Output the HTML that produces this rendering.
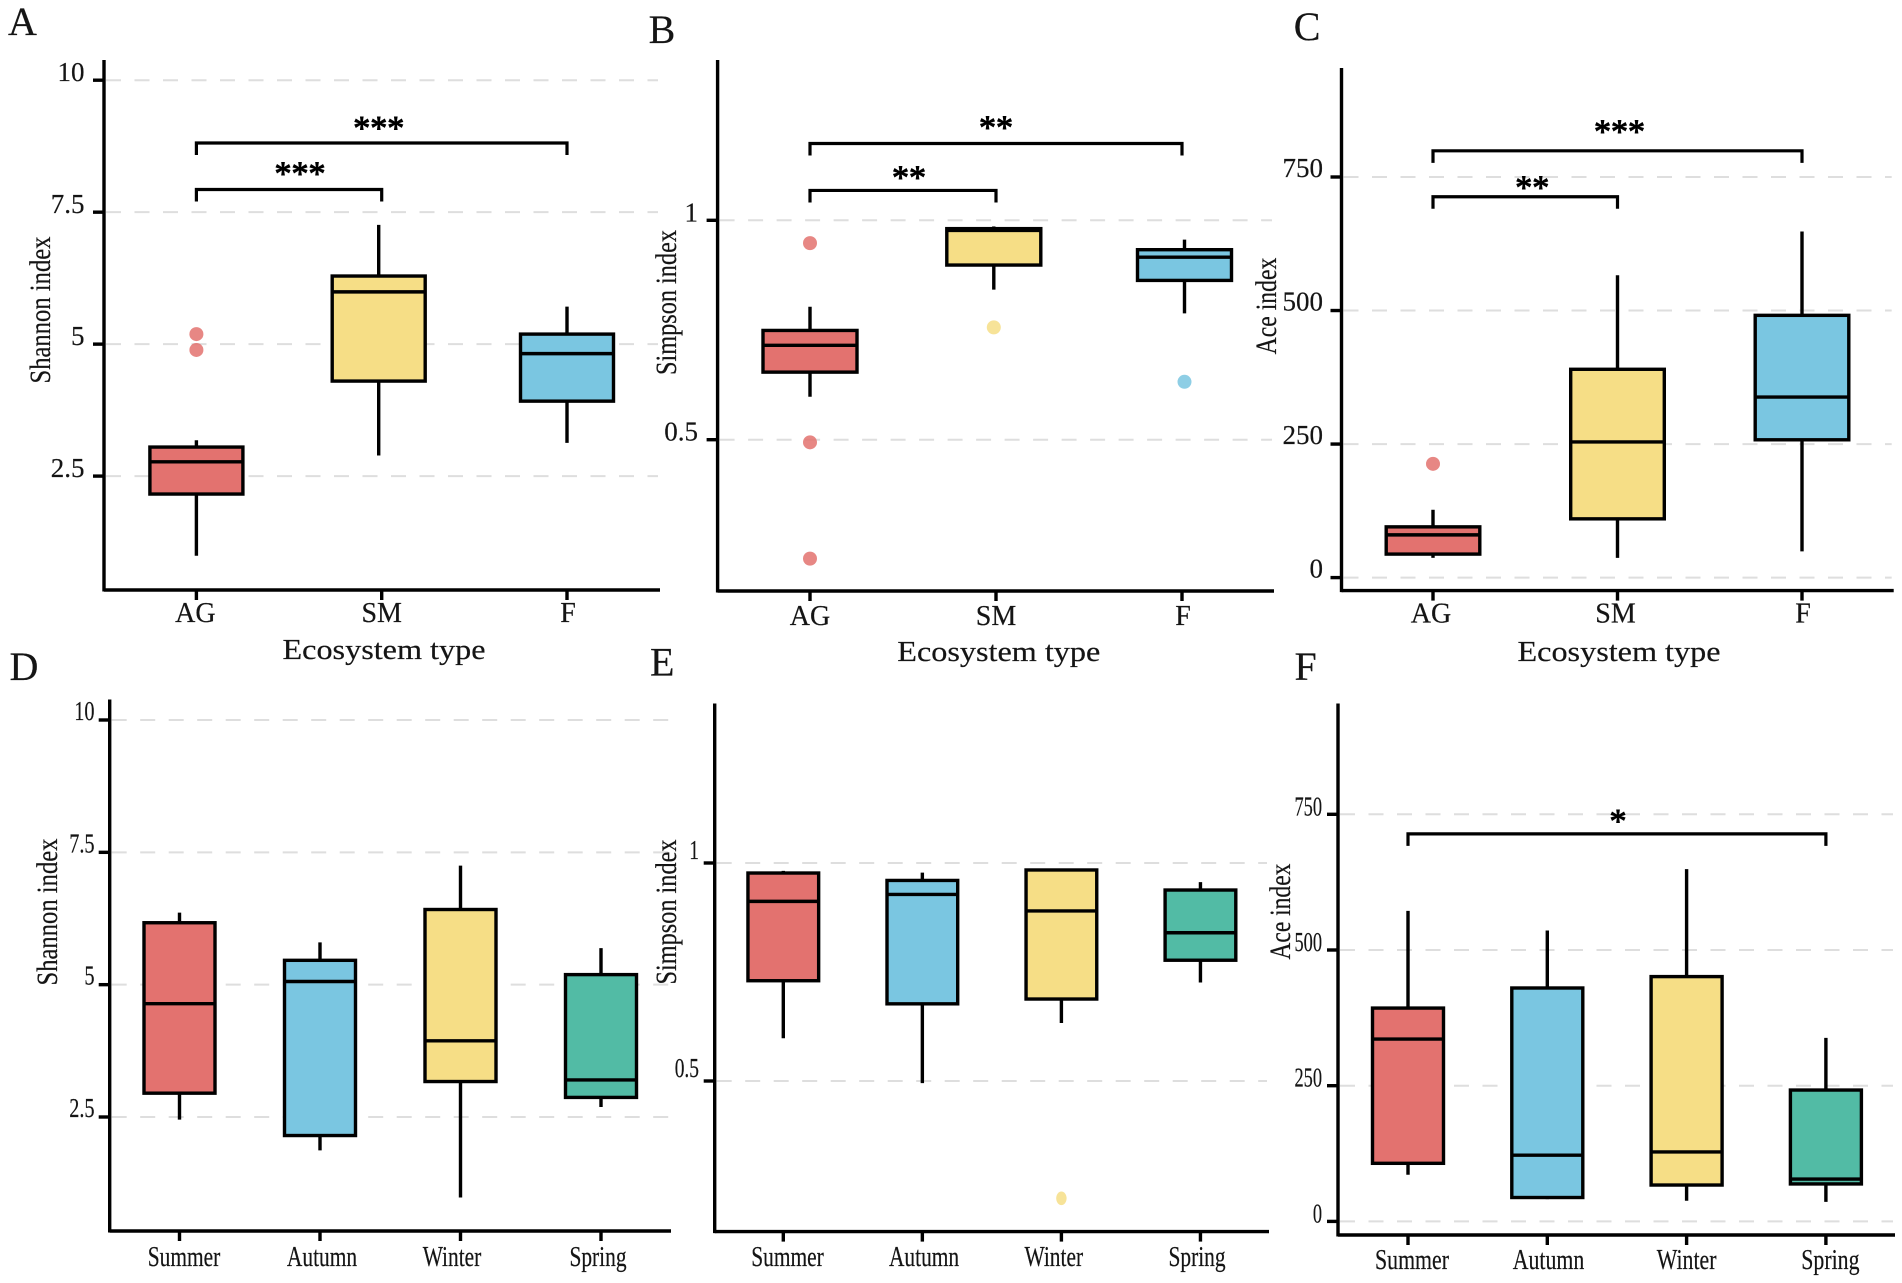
<!DOCTYPE html>
<html lang="en">
<head>
<meta charset="utf-8">
<title>Diversity index boxplots</title>
<style>
html,body{margin:0;padding:0;background:#fff;width:1902px;height:1283px;overflow:hidden}
svg{display:block}
text{font-family:"Liberation Serif","Times New Roman",serif;fill:#151515;stroke:#151515;stroke-width:.2px}
</style>
</head>
<body>
<svg id="figure" xmlns="http://www.w3.org/2000/svg" width="1902" height="1283" viewBox="0 0 1902 1283"></svg>
<script>
// ---------- Panel A data ----------
const aCategories = ['AG', 'SM', 'F'];
const aWhiskerHigh = [3.18, 7.26, 5.71];
const aQ3 = [3.05, 6.29, 5.19];
const aMedian = [2.77, 5.99, 4.82];
const aQ1 = [2.16, 4.30, 3.92];
const aWhiskerLow = [0.99, 2.89, 3.13];
const aOutliers = [[0, 5.19], [0, 4.89]];
const aTickValues = [10, 7.5, 5, 2.5];
const aTickLabels = ['10', '7.5', '5', '2.5'];
const aBrackets = [[0, 2, 8.81, '***'], [0, 1, 7.93, '***']];

// ---------- Panel B data ----------
const bCategories = ['AG', 'SM', 'F'];
const bWhiskerHigh = [0.803, 0.986, 0.956];
const bQ3 = [0.749, 0.981, 0.933];
const bMedian = [0.715, 0.977, 0.916];
const bQ1 = [0.654, 0.898, 0.863];
const bWhiskerLow = [0.598, 0.842, 0.788];
const bOutliers = [[0, 0.948], [0, 0.494], [0, 0.229], [1, 0.756], [2, 0.632]];
const bTickValues = [1, 0.5];
const bTickLabels = ['1', '0.5'];
const bBrackets = [[0, 2, 1.175, '**'], [0, 1, 1.068, '**']];

// ---------- Panel C data ----------
const cCategories = ['AG', 'SM', 'F'];
const cWhiskerHigh = [127, 566, 648];
const cQ3 = [95, 390, 491];
const cMedian = [80, 254, 338];
const cQ1 = [44, 110, 258];
const cWhiskerLow = [37, 37, 49];
const cOutliers = [[0, 213]];
const cTickValues = [750, 500, 250, 0];
const cTickLabels = ['750', '500', '250', '0'];
const cBrackets = [[0, 2, 799, '***'], [0, 1, 713, '**']];

// ---------- Panel D data ----------
const dCategories = ['Summer', 'Autumn', 'Winter', 'Spring'];
const dWhiskerHigh = [6.36, 5.80, 7.25, 5.69];
const dQ3 = [6.17, 5.46, 6.42, 5.19];
const dMedian = [4.64, 5.06, 3.94, 3.20];
const dQ1 = [2.95, 2.15, 3.17, 2.87];
const dWhiskerLow = [2.45, 1.87, 0.98, 2.69];
const dOutliers = [];
const dTickValues = [10, 7.5, 5, 2.5];
const dTickLabels = ['10', '7.5', '5', '2.5'];
const dBrackets = [];

// ---------- Panel E data ----------
const eCategories = ['Summer', 'Autumn', 'Winter', 'Spring'];
const eWhiskerHigh = [0.982, 0.978, 0.987, 0.956];
const eQ3 = [0.977, 0.960, 0.984, 0.938];
const eMedian = [0.912, 0.928, 0.890, 0.840];
const eQ1 = [0.730, 0.677, 0.688, 0.777];
const eWhiskerLow = [0.598, 0.495, 0.633, 0.726];
const eOutliers = [[2, 0.231]];
const eTickValues = [1, 0.5];
const eTickLabels = ['1', '0.5'];
const eBrackets = [];

// ---------- Panel F data ----------
const fCategories = ['Summer', 'Autumn', 'Winter', 'Spring'];
const fWhiskerHigh = [572, 536, 649, 338];
const fQ3 = [393, 430, 451, 242];
const fMedian = [336, 122, 128, 78];
const fQ1 = [107, 44, 67, 69];
const fWhiskerLow = [86, 41, 38, 36];
const fOutliers = [];
const fTickValues = [750, 500, 250, 0];
const fTickLabels = ['750', '500', '250', '0'];
const fBrackets = [[0, 3, 714, '*']];

// ---------- Colours ----------
const categoryColors = {
  AG: '#E3726F', SM: '#F6DE86', F: '#7AC6E1',
  Summer: '#E3726F', Autumn: '#7AC6E1', Winter: '#F6DE86', Spring: '#52BBA5'
};

// ---------- Panel composition: data arrays + layout ----------
const panels = [
  { key: 'a', letter: 'A', categories: aCategories, hi: aWhiskerHigh, q3: aQ3, med: aMedian, q1: aQ1, lo: aWhiskerLow,
    outliers: aOutliers, tickValues: aTickValues, tickLabels: aTickLabels, brackets: aBrackets,
    layout: { axisX: 104, top: 60, bottom: 590, right: 660, firstCat: 196.4, catStep: 185.3, boxW: 93,
      tickTopPx: 80.2, tickBottomPx: 476.1, boxDx: [0, -3, 0], labelDx: [-1, 0, 1], labelY: 622, xSx: 1, ySx: 1,
      yLabelX: 84.5, yLabelDy: 1, title: 'Shannon index', titleX: 50, titleY: 310, titleLen: 147,
      xTitleX: 384, xTitleY: 659, letterX: 8, letterY: 35, starDx: [-3, 11], starDy: [20, 21], rx: 7, ry: 7 } },
  { key: 'b', letter: 'B', categories: bCategories, hi: bWhiskerHigh, q3: bQ3, med: bMedian, q1: bQ1, lo: bWhiskerLow,
    outliers: bOutliers, tickValues: bTickValues, tickLabels: bTickLabels, brackets: bBrackets,
    layout: { axisX: 717.6, top: 60, bottom: 591, right: 1274, firstCat: 810, catStep: 186, boxW: 94,
      tickTopPx: 220.3, tickBottomPx: 439.7, boxDx: [0, -2.2, 2.5], labelDx: [0, 0, 1], labelY: 625, xSx: 1, ySx: 1,
      yLabelX: 698, yLabelDy: 1, title: 'Simpson index', titleX: 676, titleY: 302.5, titleLen: 145,
      xTitleX: 998.8, xTitleY: 661, letterX: 648.6, letterY: 43, starDx: [0, 6], starDy: [21, 18], rx: 7, ry: 7 } },
  { key: 'c', letter: 'C', categories: cCategories, hi: cWhiskerHigh, q3: cQ3, med: cMedian, q1: cQ1, lo: cWhiskerLow,
    outliers: cOutliers, tickValues: cTickValues, tickLabels: cTickLabels, brackets: cBrackets,
    layout: { axisX: 1341.5, top: 68, bottom: 590.6, right: 1893.7, firstCat: 1433, catStep: 184.5, boxW: 93.6,
      tickTopPx: 177, tickBottomPx: 577.6, boxDx: [0, 0, 0], labelDx: [-2, -2, 1], labelY: 622.7, xSx: 1, ySx: 1,
      yLabelX: 1323, yLabelDy: 0, title: 'Ace index', titleX: 1275.8, titleY: 306, titleLen: 96.7,
      xTitleX: 1619, xTitleY: 661, letterX: 1293.7, letterY: 40, starDx: [2, 7], starDy: [24.5, 14.5], rx: 7, ry: 7 } },
  { key: 'd', letter: 'D', categories: dCategories, hi: dWhiskerHigh, q3: dQ3, med: dMedian, q1: dQ1, lo: dWhiskerLow,
    outliers: dOutliers, tickValues: dTickValues, tickLabels: dTickLabels, brackets: dBrackets,
    layout: { axisX: 109.7, top: 699.5, bottom: 1231, right: 671, firstCat: 179.5, catStep: 140.5, boxW: 71,
      tickTopPx: 720, tickBottomPx: 1117, boxDx: [0, 0, 0, 0], labelDx: [4.5, 2, -8.5, -3], labelY: 1266, xSx: 0.765, ySx: 0.75,
      yLabelX: 94.5, yLabelDy: 0, title: 'Shannon index', titleX: 57, titleY: 912, titleLen: 147,
      xTitleX: null, xTitleY: 0, letterX: 9.5, letterY: 679.8, starDx: [], starDy: [], rx: 7, ry: 7 } },
  { key: 'e', letter: 'E', categories: eCategories, hi: eWhiskerHigh, q3: eQ3, med: eMedian, q1: eQ1, lo: eWhiskerLow,
    outliers: eOutliers, tickValues: eTickValues, tickLabels: eTickLabels, brackets: eBrackets,
    layout: { axisX: 714.7, top: 703.5, bottom: 1231.6, right: 1269, firstCat: 783.3, catStep: 139.05, boxW: 70.7,
      tickTopPx: 863, tickBottomPx: 1081, boxDx: [0, 0, 0, 0], labelDx: [4.2, 1.7, -7.6, -3.4], labelY: 1266, xSx: 0.765, ySx: 0.72,
      yLabelX: 699, yLabelDy: -4, title: 'Simpson index', titleX: 676, titleY: 912, titleLen: 145,
      xTitleX: null, xTitleY: 0, letterX: 650, letterY: 675.7, starDx: [], starDy: [], rx: 5.2, ry: 6.8 } },
  { key: 'f', letter: 'F', categories: fCategories, hi: fWhiskerHigh, q3: fQ3, med: fMedian, q1: fQ1, lo: fWhiskerLow,
    outliers: fOutliers, tickValues: fTickValues, tickLabels: fTickLabels, brackets: fBrackets,
    layout: { axisX: 1338, top: 703.5, bottom: 1235, right: 1895, firstCat: 1408, catStep: 139.3, boxW: 71,
      tickTopPx: 814.3, tickBottomPx: 1221.4, boxDx: [0, 0, 0, 0], labelDx: [4, 1.2, 0, 4.5], labelY: 1269, xSx: 0.78, ySx: 0.68,
      yLabelX: 1322, yLabelDy: 1, title: 'Ace index', titleX: 1290, titleY: 911.6, titleLen: 96,
      xTitleX: null, xTitleY: 0, letterX: 1294.5, letterY: 679.8, starDx: [1], starDy: [17.6], rx: 7, ry: 7 } }
];

const SVG_NS = 'http://www.w3.org/2000/svg';
const figure = document.getElementById('figure');
const LINE = 3.4;

function make(tag, attrs, parent) {
  const node = document.createElementNS(SVG_NS, tag);
  for (const k in attrs) node.setAttribute(k, attrs[k]);
  parent.appendChild(node);
  return node;
}

function placeText(parent, str, x, y, size, anchor, sx, rot) {
  const node = make('text', {
    'font-size': size,
    'text-anchor': anchor,
    transform: 'translate(' + x + ' ' + y + ') rotate(' + (rot || 0) + ') scale(' + (sx || 1) + ' 1)'
  }, parent);
  node.textContent = str;
  return node;
}

function drawPanel(p) {
  const L = p.layout;
  const n = p.tickValues.length;
  // axis functions
  const yScale = function (v) {
    const v0 = p.tickValues[0], v1 = p.tickValues[n - 1];
    return L.tickTopPx + (v - v0) * (L.tickBottomPx - L.tickTopPx) / (v1 - v0);
  };
  const xScale = function (i) { return L.firstCat + i * L.catStep; };

  const g = make('g', {}, figure);
  
  

  const letter = placeText(g, p.letter, L.letterX, L.letterY, 40, 'start', 1, 0);
  
  

  // grid lines
  p.tickValues.forEach(function (v) {
    const line = make('line', { x1: L.axisX + 2, x2: L.right - 2, y1: yScale(v), y2: yScale(v),
      stroke: '#DEDEDE', 'stroke-width': 2, 'stroke-dasharray': '15 13.5' }, g);
    
    
  });

  // axes
  const yAxis = make('line', { x1: L.axisX, x2: L.axisX, y1: L.top, y2: L.bottom + 1.5, stroke: '#000', 'stroke-width': LINE }, g);
  
  
  const xAxis = make('line', { x1: L.axisX, x2: L.right, y1: L.bottom, y2: L.bottom, stroke: '#000', 'stroke-width': LINE }, g);
  
  

  // y ticks and labels
  p.tickValues.forEach(function (v, i) {
    const tick = make('line', { x1: L.axisX - 11, x2: L.axisX, y1: yScale(v), y2: yScale(v), stroke: '#000', 'stroke-width': LINE }, g);
    
    
    const label = placeText(g, p.tickLabels[i], L.yLabelX, yScale(v) + L.yLabelDy, 27, 'end', L.ySx, 0);
    
    
  });

  // y title
  const yTitle = make('text', { 'font-size': 30, 'text-anchor': 'middle', textLength: L.titleLen, lengthAdjust: 'spacingAndGlyphs',
    transform: 'translate(' + L.titleX + ' ' + L.titleY + ') rotate(-90)' }, g);
  yTitle.textContent = L.title;
  
  

  // x title
  if (L.xTitleX !== null) {
    const xTitle = make('text', { 'font-size': 29, 'text-anchor': 'middle', textLength: 203, lengthAdjust: 'spacingAndGlyphs',
      x: L.xTitleX, y: L.xTitleY }, g);
    xTitle.textContent = 'Ecosystem type';
    
    
  }

  // categories
  p.categories.forEach(function (cat, i) {
    const cx = xScale(i);
    const tick = make('line', { x1: cx, x2: cx, y1: L.bottom, y2: L.bottom + 10, stroke: '#000', 'stroke-width': LINE }, g);
    
    
    const label = placeText(g, cat, cx + L.labelDx[i], L.labelY, 28, 'middle', L.xSx, 0);
    
    

    const bx = cx + L.boxDx[i];
    const whisker = make('line', { x1: bx, x2: bx, y1: yScale(p.hi[i]), y2: yScale(p.lo[i]), stroke: '#000', 'stroke-width': LINE }, g);
    
    
    const box = make('rect', { x: bx - L.boxW / 2, y: yScale(p.q3[i]), width: L.boxW, height: yScale(p.q1[i]) - yScale(p.q3[i]),
      fill: categoryColors[cat], stroke: '#000', 'stroke-width': LINE }, g);
    
    
    const median = make('line', { x1: bx - L.boxW / 2, x2: bx + L.boxW / 2, y1: yScale(p.med[i]), y2: yScale(p.med[i]), stroke: '#000', 'stroke-width': LINE }, g);
    
    
  });

  // outliers
  p.outliers.forEach(function (o) {
    const cat = p.categories[o[0]];
    const dot = make('ellipse', { cx: xScale(o[0]) + L.boxDx[o[0]], cy: yScale(o[1]), rx: L.rx, ry: L.ry,
      fill: categoryColors[cat], opacity: 0.85 }, g);
    
    
  });

  // significance brackets
  p.brackets.forEach(function (b, i) {
    const x1 = xScale(b[0]), x2 = xScale(b[1]), y = yScale(b[2]);
    const path = make('path', { d: 'M' + x1 + ' ' + (y + 12) + 'V' + y + 'H' + x2 + 'V' + (y + 12), fill: 'none', stroke: '#000', 'stroke-width': 3.2 }, g);
    
    
    const star = placeText(g, b[3], (x1 + x2) / 2 + L.starDx[i], y - L.starDy[i] + 16, 34, 'middle', 1, 0);
    
    
    star.style.fill = '#000';
    star.style.stroke = '#000';
    star.style.strokeWidth = '1px';
  });
}

panels.forEach(drawPanel);
</script>
</body>
</html>
